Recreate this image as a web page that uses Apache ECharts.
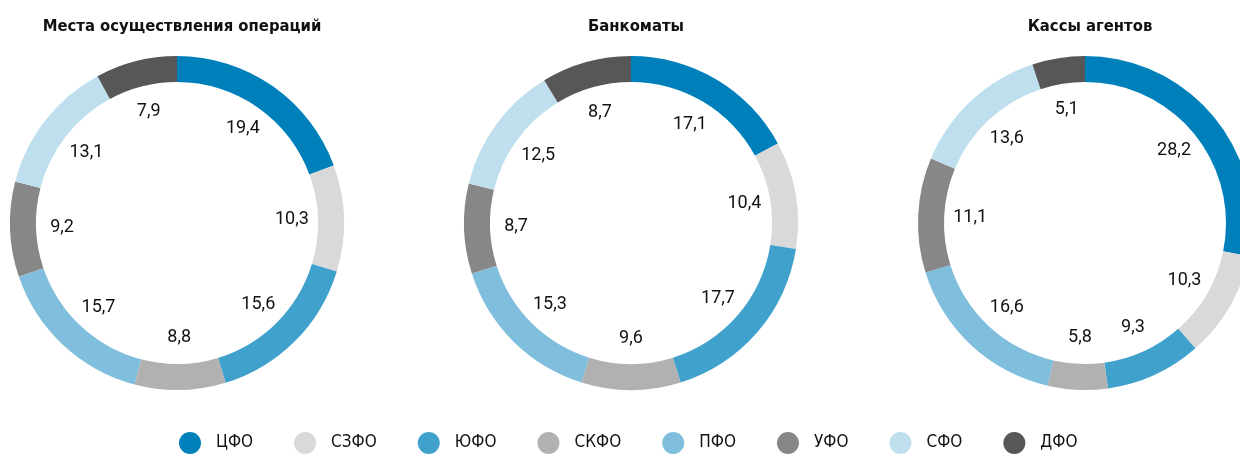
<!DOCTYPE html>
<html>
<head>
<meta charset="utf-8">
<script src="https://cdn.jsdelivr.net/npm/echarts@6/dist/echarts.min.js"></script>
<style>
  html, body { margin: 0; padding: 0; background: #fff; }
  #chart { width: 1240px; height: 455px; }
</style>
</head>
<body>
<div id="chart"></div>
<script>
  // округа и цвета
  var districts = ['ЦФО', 'СЗФО', 'ЮФО', 'СКФО', 'ПФО', 'УФО', 'СФО', 'ДФО'];
  var colors = ['#0080bb', '#d9d9d9', '#40a1cc', '#b1b1b1', '#80bedd', '#878787', '#bfdfee', '#575757'];

  var titles = ['Места осуществления операций', 'Банкоматы', 'Кассы агентов'];
  var placesValues = [19.4, 10.3, 15.6, 8.8, 15.7, 9.2, 13.1, 7.9];
  var atmValues = [17.1, 10.4, 17.7, 9.6, 15.3, 8.7, 12.5, 8.7];
  var agentValues = [28.2, 10.3, 9.3, 5.8, 16.6, 11.1, 13.6, 5.1];

  var centersX = [177, 631, 1085];
  var centerY = 223;
  var font = "'DejaVu Sans Condensed', 'DejaVu Sans', sans-serif";
  var labelFont = "Roboto, 'DejaVu Sans Condensed', sans-serif";

  var allValues = [placesValues, atmValues, agentValues];
  var series = [];
  var titleList = [];

  allValues.forEach(function (vals, i) {
    var data = vals.map(function (v, k) {
      return { name: districts[k], value: v, itemStyle: { color: colors[k] } };
    });
    // кольцо
    series.push({
      type: 'pie',
      center: [centersX[i], centerY],
      radius: [141, 167],
      startAngle: 90,
      silent: true,
      label: { show: false },
      labelLine: { show: false },
      data: data
    });
    // подписи внутри кольца (прозрачный ряд)
    series.push({
      type: 'pie',
      center: [centersX[i], centerY],
      radius: [84, 140],
      startAngle: 90,
      silent: true,
      itemStyle: { color: 'rgba(0,0,0,0)' },
      label: {
        show: true,
        position: 'inside',
        color: '#111',
        fontSize: 18,
        fontFamily: labelFont,
        formatter: function (p) {
          return p.value.toFixed(1).replace('.', ',');
        }
      },
      labelLine: { show: false },
      data: vals.map(function (v, k) {
        return { name: districts[k], value: v };
      })
    });
    titleList.push({
      text: titles[i],
      left: centersX[i],
      top: 13,
      textAlign: 'center',
      textStyle: { fontFamily: font, fontSize: 16.5, fontWeight: 'bold', color: '#111' }
    });
  });

  var myChart = echarts.init(document.getElementById('chart'));
  myChart.setOption({
    animation: false,
    title: titleList,
    legend: {
      left: 174,
      top: 427,
      icon: 'circle',
      itemWidth: 22,
      itemHeight: 22,
      itemGap: 41,
      selectedMode: false,
      textStyle: { fontFamily: font, fontSize: 17, color: '#111', padding: [0, 0, 0, 10] },
      data: districts.map(function (d, k) {
        return { name: d, itemStyle: { color: colors[k] } };
      })
    },
    series: series
  });
</script>
</body>
</html>
